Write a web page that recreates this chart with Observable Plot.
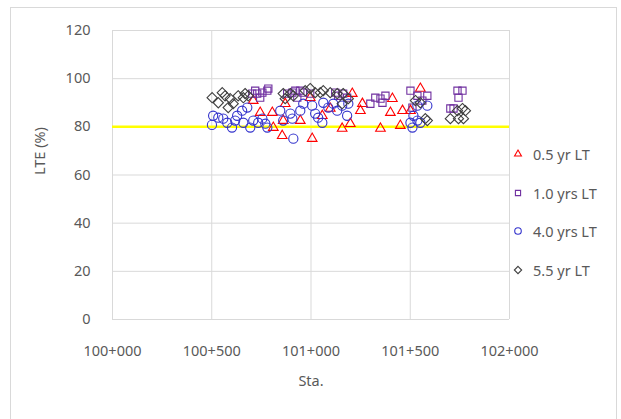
<!DOCTYPE html>
<html>
<head>
<meta charset="utf-8">
<script src="https://cdn.jsdelivr.net/npm/d3@7"></script>
<script src="https://cdn.jsdelivr.net/npm/@observablehq/plot@0.6"></script>
<style>
  html, body { margin: 0; padding: 0; background: #fff; width: 621px; height: 419px; overflow: hidden; }
  #wrap { position: relative; width: 621px; height: 419px; font-family: "Noto Sans", sans-serif; }
  #frame { position: absolute; left: 10px; top: 7px; width: 607px; height: 430px; border: 1px solid #d9d9d9; box-sizing: border-box; }
  #chart { position: absolute; left: 0; top: 0; }
  #legend { position: absolute; left: 511px; top: 0; }
  .lg { position: absolute; left: 0; display: flex; align-items: center; font-size: 14.5px; color: #595959; white-space: nowrap; }
  .lg svg { margin-right: 8px; }
</style>
</head>
<body>
<div id="wrap"><div id="frame"></div><div id="chart"></div><div id="legend"></div></div>
<script>
// Series names
const seriesNames = ["0.5 yr LT", "1.0 yrs LT", "4.0 yrs LT", "5.5 yr LT"];
// Tick values
const xTicks = [100000, 100500, 101000, 101500, 102000];
const yTicks = [0, 20, 40, 60, 80, 100, 120];
const threshold = 80;

// 0.5 yr LT (station m, LTE %)
const sta05 = [100709,100744,100805,100810,100855,100860,100946,100870,100996,101006,101057,101097,101157,101198,101208,101249,101259,101350,101400,101410,101450,101461,101551,101501];
const lte05 = [90.9,85.9,85.9,79.7,76.3,82.6,82.6,89.6,92.1,75.1,84.6,87.6,79.3,81.3,93.8,86.7,89.6,79.3,85.9,91.7,80.5,86.7,95.9,86.7];

// 1.0 yrs LT
const sta10 = [100704,100719,100729,100755,100780,100785,100744,100880,100906,100921,100931,100946,100961,100996,101122,101137,101162,101182,101299,101324,101350,101375,101360,101501,101511,101536,101586,101561,101738,101763,101743,101702,101718];
const lte10 = [93.8,95.0,93.8,94.2,95.0,95.9,92.1,93.8,94.2,95.0,92.1,95.0,94.2,93.8,94.2,92.9,93.8,92.1,89.6,92.1,91.7,92.9,90.0,95.0,88.0,92.9,92.9,90.9,95.0,95.0,92.1,87.6,87.6];

// 4.0 yrs LT
const sta40 = [100501,100507,100533,100558,100578,100602,100618,100628,100653,100659,100679,100694,100709,100734,100755,100770,100780,100845,100860,100896,100906,100911,100946,100961,101006,101021,101036,101057,101062,101087,101112,101132,101157,101182,101188,101501,101516,101536,101511,101551,101586,101536];
const lte40 = [80.8,84.6,83.8,83.4,81.7,79.7,82.6,84.6,86.7,81.7,88.0,79.7,82.6,81.7,83.4,81.3,79.7,86.7,82.6,85.5,83.4,75.1,86.7,89.6,88.8,85.5,83.8,81.7,90.0,88.0,89.6,86.7,88.8,84.6,89.6,81.7,84.6,82.6,79.7,81.7,88.8,88.8];

// 5.5 yr LT
const sta55 = [100502,100533,100553,100567,100593,100583,100608,100633,100659,100668,100684,100860,100870,100896,100911,100971,100996,101021,101047,101062,101097,101132,101162,101188,101157,101526,101551,101576,101586,101738,101763,101778,101702,101743,101768];
const lte55 = [92.1,90.0,94.2,92.9,91.7,88.0,89.6,92.9,92.1,93.8,92.9,93.8,91.7,93.8,92.9,95.0,95.9,94.2,94.2,95.0,94.2,93.8,93.8,91.7,89.6,90.9,90.0,83.4,82.6,86.7,87.6,86.7,83.4,83.4,83.4];

const colors = ["#ff0000", "#7030a0", "#3333cc", "#404040"];
const symbols = ["triangle2", "square2", "circle", "diamond2"];

const stas = [sta05, sta10, sta40, sta55];
const ltes = [lte05, lte10, lte40, lte55];
const data = [];
seriesNames.forEach((s, i) => stas[i].forEach((x, j) => data.push({series: s, sta: x, lte: ltes[i][j]})));

const fmt = d => `${Math.floor(d / 1000)}+${String(d % 1000).padStart(3, "0")}`;

const chart = Plot.plot({
  width: 621,
  height: 419,
  marginLeft: 112,
  marginRight: 112,
  marginTop: 30,
  marginBottom: 100,
  style: {fontFamily: "Noto Sans, sans-serif", fontSize: "14.5px", color: "#595959", background: "transparent"},
  x: {domain: [100000, 102000], ticks: xTicks, tickFormat: fmt, tickSize: 0, tickPadding: 26, label: null},
  y: {domain: [0, 120], ticks: yTicks, tickSize: 0, tickPadding: 22, label: null},
  symbol: {domain: seriesNames, range: symbols},
  color: {domain: seriesNames, range: colors},
  marks: [
    Plot.gridX(xTicks, {stroke: "#d9d9d9", strokeOpacity: 1}),
    Plot.gridY(yTicks, {stroke: "#d9d9d9", strokeOpacity: 1}),
    Plot.ruleY([threshold], {stroke: "#ffff00", strokeWidth: 2.5}),
    Plot.dot(data, {x: "sta", y: "lte", symbol: "series", stroke: "series", r: 4.6, strokeWidth: 1.1}),
    Plot.axisX({ticks: xTicks, tickFormat: fmt, tickSize: 0, tickPadding: 26, label: null}),
    Plot.axisY({ticks: yTicks, tickSize: 0, tickPadding: 22, label: null}),
    Plot.text(["Sta."], {frameAnchor: "bottom", dy: 66, fill: "#595959", fontSize: 14.5}),
    Plot.text(["LTE (%)"], {frameAnchor: "left", dx: -72, rotate: -90, fill: "#595959", fontSize: 14.5})
  ]
});
document.getElementById("chart").appendChild(chart);

// Legend (HTML with d3 symbol paths)
const legend = document.getElementById("legend");
const legendTops = [154, 193, 231, 270];
seriesNames.forEach((name, i) => {
  const row = document.createElement("div");
  row.className = "lg";
  row.style.top = (legendTops[i] - 10) + "px";
  const sym = {triangle2: d3.symbolTriangle2, square2: d3.symbolSquare2, circle: d3.symbolCircle, diamond2: d3.symbolDiamond2}[symbols[i]];
  const path = d3.symbol(sym, 34)();
  row.innerHTML = `<svg width="14" height="20" viewBox="-7 -10 14 20"><path d="${path}" fill="none" stroke="${colors[i]}" stroke-width="1.1"/></svg><span>${name}</span>`;
  legend.appendChild(row);
});
</script>
</body>
</html>
